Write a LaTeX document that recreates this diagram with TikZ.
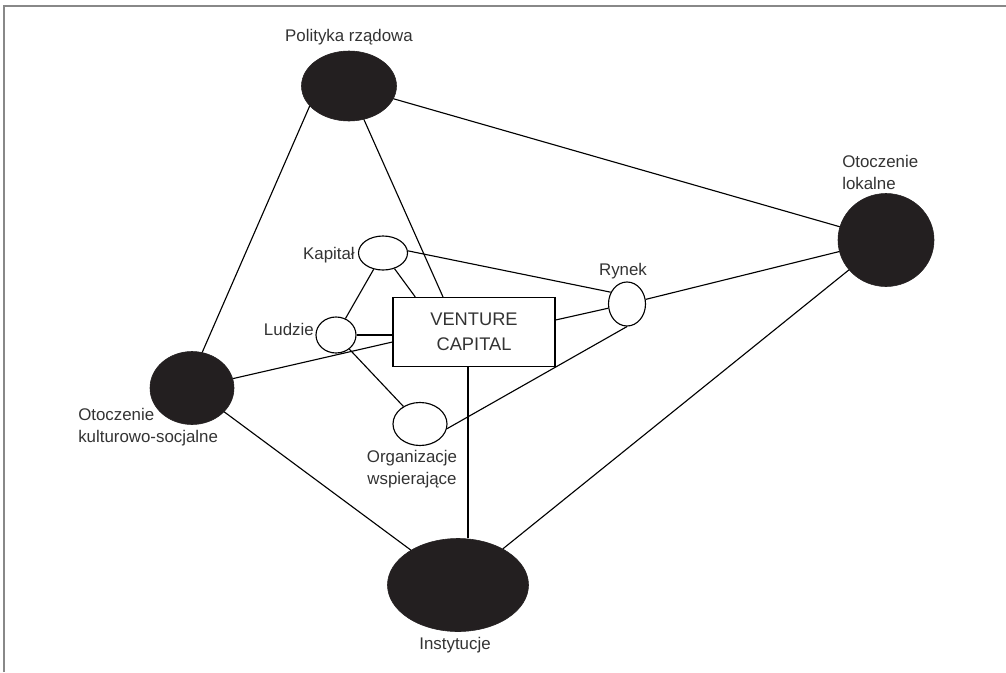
\documentclass[tikz,border=0pt]{standalone}
\usepackage{fontspec}
\setmainfont{Liberation Sans}
\usetikzlibrary{shapes.geometric, calc}
\definecolor{labelgray}{HTML}{333333}
\definecolor{blobfill}{HTML}{231F20}
\definecolor{framegray}{HTML}{888888}

\begin{document}
\begin{tikzpicture}[x=0.025cm, y=-0.025cm]
\tikzstyle{blob}=[ellipse, draw=blobfill, fill=blobfill, inner sep=0pt]
\tikzstyle{ring}=[ellipse, draw=black, line width=0.8pt, fill=white, inner sep=0pt]
\tikzstyle{vcbox}=[rectangle, draw=black, line width=0.8pt, inner sep=0pt, align=center, text=labelgray, font=\fontsize{13}{17.8}\selectfont]
\tikzstyle{txt}=[inner sep=0pt, text=labelgray, font=\fontsize{12}{15.8}\selectfont]
\tikzstyle{link}=[black, line width=0.8pt]
\useasboundingbox (0,0) rectangle (1006,672);
\draw [framegray, line width=1.2pt] (4,672) -- (4,6) -- (1006,6);
% outer factors
\node [blob, minimum width=2.375cm, minimum height=1.75cm] (pol) at (349,86) {};
\node [blob, minimum width=2.4cm, minimum height=2.325cm] (lok) at (886,240) {};
\node [blob, minimum width=2.1cm, minimum height=1.825cm] (kult) at (192,388) {};
\node [blob, minimum width=3.525cm, minimum height=2.325cm] (inst) at (458,585) {};
% inner factors
\node [ring, minimum width=1.225cm, minimum height=0.85cm] (kap) at (383,253) {};
\node [ring, minimum width=1cm, minimum height=0.9cm] (ludzie) at (336,335) {};
\node [ring, minimum width=0.925cm, minimum height=1.1cm] (rynek) at (627,304) {};
\node [ring, minimum width=1.35cm, minimum height=1.075cm] (org) at (420,424) {};
\node [vcbox, minimum width=4.05cm, minimum height=1.725cm] (vc) at (474,332) {VENTURE\\CAPITAL};
% labels
\node [txt, anchor=base] (polT) at (349,41) {Polityka rządowa};
\node [txt, anchor=north west, align=left] (lokT) at (842,155) {Otoczenie\\lokalne};
\node [txt, anchor=north west, align=left] (kultT) at (78,408) {Otoczenie\\kulturowo-socjalne};
\node [txt, anchor=base] (instT) at (455,649) {Instytucje};
\node [txt, anchor=base east] (kapT) at (355,259) {Kapitał};
\node [txt, anchor=base east] (ludzieT) at (314,335) {Ludzie};
\node [txt, anchor=base] (rynekT) at (623,275) {Rynek};
\node [txt, anchor=north, align=center] (orgT) at (412,450) {Organizacje\\wspierające};
% connector ends on the box
\coordinate (vcPol) at ($(vc.north west)!0.31!(vc.north east)$);
\coordinate (vcKap) at ($(vc.north west)!0.14!(vc.north east)$);
\coordinate (vcKult) at ($(vc.west)+(0,10)$);
\coordinate (vcRyn) at ($(vc.east)+(0,-12)$);
\coordinate (vcInst) at ($(vc.south)+(-6,0)$);
% connectors
\draw [link] (pol.207) -- (kult.74);
\draw [link] (pol) -- (lok);
\draw [link] (pol) -- (vcPol);
\draw [link] (kap) -- (ludzie);
\draw [link] (kap) -- (vcKap);
\draw [link] (kap.5) -- (rynek.144);
\draw [link] (ludzie) -- (ludzie -| vc.west);
\draw [link] (ludzie) -- (org);
\draw [link] (kult) -- (vcKult);
\draw [link] (vcRyn) -- (rynek);
\draw [link] (rynek) -- (lok);
\draw [link] (org.-10) -- (rynek.south);
\draw [link] (vcInst) -- (vcInst |- inst.north);
\draw [link] (kult) -- (inst);
\draw [link] (lok) -- (inst);
\end{tikzpicture}
\end{document}
